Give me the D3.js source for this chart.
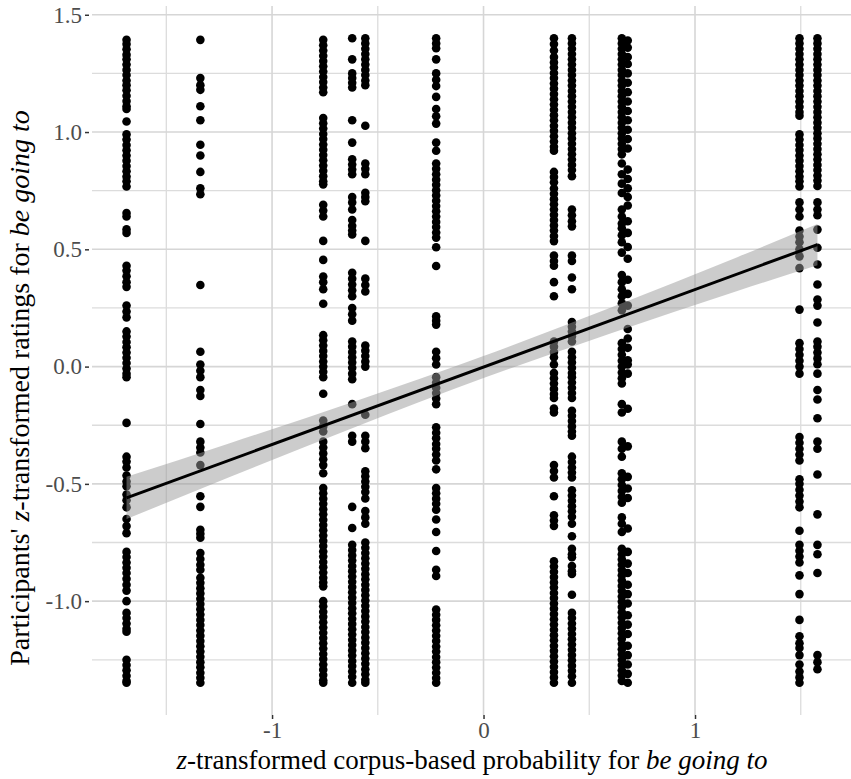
<!DOCTYPE html>
<html>
<head>
<meta charset="utf-8">
<script src="https://cdn.jsdelivr.net/npm/d3@7"></script>
<style>
	body { margin: 0; background: #fff; }
	text { font-family: "Liberation Serif", "DejaVu Serif", serif; }
</style>
</head>
<body>
<script>
// corpus-based probability (z) for each verb column
var probX = [-1.688, -1.339, -0.758, -0.621, -0.559, -0.224, 0.333, 0.418, 0.654, 0.682, 1.494, 1.579];

// participants' z-transformed ratings, one array per column
var ratingsA = [1.393, 1.375, 1.353, 1.33, 1.31, 1.288, 1.265, 1.243, 1.22, 1.2, 1.178, 1.155, 1.132, 1.11, 1.098, 1.045,
	0.99, 0.968, 0.945, 0.922, 0.9, 0.878, 0.855, 0.833, 0.81, 0.79, 0.768, 0.655, 0.64, 0.585, 0.57,
	0.43, 0.41, 0.385, 0.36, 0.34, 0.26, 0.235, 0.21, 0.15, 0.128, 0.105, 0.083, 0.06, 0.038, 0.015, -0.008, -0.03, -0.045,
	-0.24, -0.384, -0.405, -0.43, -0.464, -0.49, -0.51, -0.545, -0.57, -0.6, -0.65, -0.68, -0.71,
	-0.79, -0.812, -0.835, -0.858, -0.88, -0.905, -0.93, -0.955, -1.0, -1.05, -1.072, -1.095, -1.118, -1.13,
	-1.25, -1.272, -1.295, -1.318, -1.34, -1.348];
var ratingsB = [1.393, 1.23, 1.2, 1.18, 1.11, 1.05, 0.946, 0.9, 0.83, 0.76, 0.735, 0.348, 0.063, 0.009, -0.018, -0.045,
	-0.1, -0.125, -0.245, -0.32, -0.345, -0.366, -0.42, -0.553, -0.598, -0.696, -0.713, -0.73, -0.795, -0.82, -0.845, -0.866,
	-0.9, -0.922, -0.945, -0.967, -0.99, -1.012, -1.035, -1.057, -1.08, -1.102, -1.125, -1.147, -1.17, -1.192, -1.215,
	-1.237, -1.26, -1.282, -1.305, -1.327, -1.348];
var ratingsC = [1.393, 1.37, 1.348, 1.325, 1.303, 1.28, 1.258, 1.235, 1.213, 1.19, 1.17,
	1.06, 1.037, 1.015, 0.992, 0.97, 0.947, 0.925, 0.902, 0.88, 0.857, 0.835, 0.812, 0.79, 0.777,
	0.69, 0.665, 0.64, 0.536, 0.455, 0.384, 0.36, 0.33, 0.268,
	0.134, 0.112, 0.09, 0.067, 0.045, 0.022, 0, -0.022, -0.045, -0.116, -0.23, -0.255, -0.277,
	-0.32, -0.345, -0.37, -0.395, -0.42, -0.455, -0.518, -0.54, -0.563, -0.585, -0.608, -0.63, -0.653, -0.675, -0.698,
	-0.72, -0.743, -0.765, -0.788, -0.81, -0.833, -0.855, -0.878, -0.9, -0.92, -0.937,
	-1.0, -1.022, -1.045, -1.067, -1.09, -1.112, -1.135, -1.157, -1.18, -1.202, -1.225, -1.247, -1.27, -1.292, -1.315, -1.337, -1.348];
var ratingsD = [1.4, 1.31, 1.25, 1.23, 1.21, 1.19, 1.05, 0.955, 0.884, 0.862, 0.84, 0.82, 0.723, 0.7, 0.67, 0.625, 0.6, 0.58, 0.563,
	0.4, 0.375, 0.35, 0.325, 0.3, 0.25, 0.223, 0.196, 0.107, 0.085, 0.062, 0.04, 0.018, -0.005, -0.03, -0.054,
	-0.16, -0.295, -0.32, -0.598, -0.688,
	-0.76, -0.782, -0.805, -0.827, -0.85, -0.872, -0.895, -0.917, -0.94, -0.962, -0.985, -1.007, -1.03, -1.052, -1.075,
	-1.097, -1.12, -1.142, -1.165, -1.187, -1.21, -1.232, -1.255, -1.277, -1.3, -1.322, -1.348];
var ratingsE = [1.4, 1.378, 1.355, 1.333, 1.31, 1.288, 1.265, 1.243, 1.22, 1.2, 1.027, 0.866, 0.843, 0.82, 0.741, 0.723, 0.705,
	0.536, 0.375, 0.348, 0.32, 0.09, 0.068, 0.045, 0.022, 0, -0.205, -0.295, -0.32, -0.348,
	-0.446, -0.468, -0.49, -0.512, -0.535, -0.562, -0.616, -0.643, -0.67,
	-0.75, -0.772, -0.795, -0.817, -0.84, -0.862, -0.885, -0.907, -0.93, -0.952, -0.975, -0.997, -1.02, -1.042, -1.065,
	-1.087, -1.11, -1.132, -1.155, -1.177, -1.2, -1.222, -1.245, -1.267, -1.29, -1.312, -1.335, -1.348];
var ratingsF = [1.4, 1.378, 1.357, 1.31, 1.25, 1.223, 1.196, 1.15, 1.098, 1.067, 1.036, 0.955, 0.92,
	0.866, 0.843, 0.82, 0.797, 0.775, 0.752, 0.73, 0.707, 0.685, 0.662, 0.64, 0.617, 0.595, 0.572, 0.55, 0.509,
	0.429, 0.214, 0.196, 0.179, 0.063, 0.036, 0.009, -0.045, -0.068, -0.09, -0.113, -0.136, -0.16,
	-0.259, -0.282, -0.305, -0.33, -0.35, -0.375, -0.4, -0.438, -0.518, -0.54, -0.563, -0.585, -0.61, -0.652, -0.705,
	-0.786, -0.866, -0.893, -1.036, -1.058, -1.08, -1.103, -1.125, -1.148, -1.17, -1.193, -1.215, -1.238, -1.26,
	-1.283, -1.305, -1.328, -1.348];
var ratingsG = [1.4, 1.375, 1.348, 1.32, 1.297, 1.275, 1.252, 1.23, 1.207, 1.185, 1.162, 1.14, 1.117, 1.095, 1.072, 1.05,
	1.027, 1.005, 0.982, 0.96, 0.937, 0.92, 0.83, 0.808, 0.786,
	0.759, 0.737, 0.714, 0.692, 0.67, 0.647, 0.625, 0.602, 0.58, 0.557, 0.535, 0.473, 0.45, 0.43, 0.36, 0.3,
	0.107, 0.085, 0.062, 0.04, 0.009, -0.027, -0.05, -0.072, -0.095, -0.117, -0.134, -0.179, -0.196,
	-0.42, -0.445, -0.473, -0.553, -0.634, -0.656, -0.679,
	-0.83, -0.852, -0.875, -0.897, -0.92, -0.942, -0.965, -0.987, -1.01, -1.032, -1.055, -1.077, -1.1, -1.122,
	-1.145, -1.167, -1.19, -1.212, -1.235, -1.257, -1.28, -1.302, -1.325, -1.348];
var ratingsH = [1.4, 1.378, 1.355, 1.333, 1.31, 1.288, 1.265, 1.243, 1.22, 1.198, 1.175, 1.153, 1.13, 1.108, 1.085,
	1.063, 1.04, 1.018, 0.995, 0.973, 0.95, 0.928, 0.905, 0.883, 0.86, 0.838, 0.812,
	0.67, 0.645, 0.62, 0.598, 0.473, 0.45, 0.38, 0.33, 0.19, 0.17, 0.15, 0.128, 0.107,
	0.063, 0.04, 0.018, -0.005, -0.027, -0.045, -0.068, -0.09, -0.113, -0.134,
	-0.188, -0.21, -0.232, -0.255, -0.277, -0.295, -0.384, -0.407, -0.43, -0.452, -0.473,
	-0.527, -0.55, -0.572, -0.595, -0.617, -0.64, -0.67, -0.723, -0.777, -0.8, -0.813, -0.85, -0.872, -0.884, -0.973,
	-1.05, -1.072, -1.095, -1.117, -1.14, -1.162, -1.185, -1.207, -1.23, -1.252, -1.275, -1.297, -1.32, -1.348];
var ratingsI = [1.4, 1.378, 1.355, 1.333, 1.31, 1.288, 1.265, 1.243, 1.22, 1.198, 1.175, 1.153, 1.13, 1.108, 1.085,
	1.063, 1.04, 1.018, 0.995, 0.973, 0.95, 0.928, 0.905, 0.866, 0.82, 0.78, 0.74,
	0.67, 0.64, 0.61, 0.59, 0.56, 0.53, 0.486, 0.39, 0.36, 0.33, 0.3, 0.27, 0.24,
	0.1, 0.075, 0.05, 0.025, 0, -0.025, -0.05, -0.072, -0.16, -0.196, -0.32, -0.35, -0.384,
	-0.455, -0.48, -0.505, -0.53, -0.555, -0.58, -0.643, -0.67, -0.705,
	-0.777, -0.8, -0.822, -0.845, -0.867, -0.89, -0.912, -0.935, -0.957, -0.98, -1.002, -1.025, -1.047, -1.07,
	-1.092, -1.115, -1.137, -1.16, -1.182, -1.205, -1.227, -1.25, -1.272, -1.295, -1.317, -1.34];
var ratingsJ = [1.39, 1.36, 1.32, 1.29, 1.25, 1.21, 1.17, 1.13, 1.09, 1.05, 1.01, 0.97, 0.93, 0.84, 0.8, 0.76, 0.723,
	0.687, 0.62, 0.57, 0.51, 0.46, 0.37, 0.31, 0.26, 0.16, 0.12, 0.08, 0.027, 0.009, -0.03, -0.18, -0.34,
	-0.47, -0.52, -0.56, -0.69, -0.79, -0.84, -0.88, -0.93, -0.97, -1.01, -1.06, -1.1, -1.14, -1.19, -1.23, -1.27, -1.31, -1.348];
var ratingsK = [1.4, 1.378, 1.355, 1.333, 1.31, 1.288, 1.265, 1.243, 1.22, 1.198, 1.175, 1.153, 1.13, 1.108, 1.085, 1.07,
	0.99, 0.968, 0.945, 0.923, 0.9, 0.878, 0.855, 0.833, 0.81, 0.79, 0.768, 0.7, 0.67, 0.64,
	0.58, 0.555, 0.53, 0.5, 0.47, 0.42, 0.243, 0.1, 0.075, 0.05, 0.025, 0, -0.03,
	-0.3, -0.325, -0.35, -0.375, -0.4, -0.48, -0.5, -0.525, -0.55, -0.575, -0.6, -0.7,
	-0.76, -0.785, -0.81, -0.835, -0.89, -0.97, -1.08, -1.15, -1.18, -1.2, -1.23, -1.27, -1.3, -1.325, -1.348];
var ratingsL = [1.4, 1.378, 1.355, 1.333, 1.31, 1.288, 1.265, 1.243, 1.22, 1.198, 1.175, 1.153, 1.13, 1.108, 1.085,
	1.063, 1.04, 1.018, 0.995, 0.973, 0.95, 0.928, 0.905, 0.883, 0.86, 0.838, 0.815, 0.793, 0.77, 0.7,
	0.67, 0.645, 0.584, 0.507, 0.435, 0.35, 0.286, 0.26, 0.188, 0.107, 0.085, 0.06, 0.035, 0.01,
	-0.03, -0.1, -0.14, -0.22, -0.32, -0.35, -0.46, -0.63, -0.76, -0.8, -0.88, -1.23, -1.26, -1.29];

// linear fit and its confidence band
var fitX = [-1.688, 1.579];
var fitY = [-0.56, 0.52];
var bandX = [-1.688, -1.2, -0.6, 0, 0.6, 1.2, 1.579];
var bandHalf = [0.09, 0.072, 0.055, 0.047, 0.055, 0.072, 0.088];

var xTicks = [-1, 0, 1];
var xMinor = [-1.5, -0.5, 0.5, 1.5];
var yTicks = [-1.0, -0.5, 0.0, 0.5, 1.0, 1.5];
var yMinor = [-1.25, -0.75, -0.25, 0.25, 0.75, 1.25];

var ratingCols = [ratingsA, ratingsB, ratingsC, ratingsD, ratingsE, ratingsF,
	ratingsG, ratingsH, ratingsI, ratingsJ, ratingsK, ratingsL];

var points = [];
ratingCols.forEach(function (col, i) {
	col.forEach(function (v) { points.push({ x: probX[i], y: v }); });
});

var W = 851, H = 779;
var margin = { top: 6, right: -1, bottom: 64, left: 92 };

var svg = d3.select("body").append("svg")
	.attr("width", W)
	.attr("height", H);

// ggplot-like 5% expansion of the data range
function expand(ext) {
	var d = (ext[1] - ext[0]) * 0.05;
	return [ext[0] - d, ext[1] + d];
}

var x = d3.scaleLinear()
	.domain(expand(d3.extent(points, function (d) { return d.x; })))
	.range([margin.left, W - margin.right]);
var y = d3.scaleLinear()
	.domain(expand(d3.extent(points, function (d) { return d.y; })))
	.range([H - margin.bottom, margin.top]);

var grid = svg.append("g");
grid.selectAll(".xminor").data(xMinor).enter().append("line")
	.attr("x1", function (d) { return x(d); }).attr("x2", function (d) { return x(d); })
	.attr("y1", y.range()[1]).attr("y2", y.range()[0])
	.attr("stroke", "#dcdcdc").attr("stroke-width", 1.3);
grid.selectAll(".yminor").data(yMinor).enter().append("line")
	.attr("y1", function (d) { return y(d); }).attr("y2", function (d) { return y(d); })
	.attr("x1", x.range()[0]).attr("x2", x.range()[1])
	.attr("stroke", "#dcdcdc").attr("stroke-width", 1.3);
grid.selectAll(".xmajor").data(xTicks).enter().append("line")
	.attr("x1", function (d) { return x(d); }).attr("x2", function (d) { return x(d); })
	.attr("y1", y.range()[1]).attr("y2", y.range()[0])
	.attr("stroke", "#d6d6d6").attr("stroke-width", 1.6);
grid.selectAll(".ymajor").data(yTicks).enter().append("line")
	.attr("y1", function (d) { return y(d); }).attr("y2", function (d) { return y(d); })
	.attr("x1", x.range()[0]).attr("x2", x.range()[1])
	.attr("stroke", "#d6d6d6").attr("stroke-width", 1.6);

// axes
var xAxis = svg.append("g")
	.attr("transform", "translate(0," + (H - margin.bottom) + ")")
	.call(d3.axisBottom(x).tickValues(xTicks).tickSize(4).tickPadding(3)
		.tickFormat(function (d) { return d < 0 ? "-" + Math.abs(d) : d; }));
var yAxis = svg.append("g")
	.attr("transform", "translate(" + (margin.left - 3) + ",0)")
	.call(d3.axisLeft(y).tickValues(yTicks).tickSize(4).tickPadding(3)
		.tickFormat(function (d) { return (d < 0 ? "-" : "") + Math.abs(d).toFixed(1); }));

[xAxis, yAxis].forEach(function (a) {
	a.select(".domain").remove();
	a.selectAll(".tick line").attr("stroke", "#333").attr("stroke-width", 1.5);
	a.selectAll(".tick text")
		.attr("fill", "#4d4d4d")
		.style("font-size", "23px")
		.style("font-family", "'Liberation Serif', serif");
});

// points
svg.append("g").selectAll("circle")
	.data(points).enter().append("circle")
	.attr("cx", function (d) { return x(d.x); })
	.attr("cy", function (d) { return y(d.y); })
	.attr("r", 4.3)
	.attr("fill", "#000");

// fit + band
var fit = d3.scaleLinear().domain(fitX).range(fitY);
var band = bandX.map(function (v, i) { return { x: v, lo: fit(v) - bandHalf[i], hi: fit(v) + bandHalf[i] }; });

svg.append("path")
	.datum(band)
	.attr("fill", "#999")
	.attr("fill-opacity", 0.5)
	.attr("d", d3.area()
		.curve(d3.curveMonotoneX)
		.x(function (d) { return x(d.x); })
		.y0(function (d) { return y(d.lo); })
		.y1(function (d) { return y(d.hi); }));

svg.append("line")
	.attr("x1", x(fitX[0])).attr("y1", y(fitY[0]))
	.attr("x2", x(fitX[1])).attr("y2", y(fitY[1]))
	.attr("stroke", "#000")
	.attr("stroke-width", 3);

// titles
var xt = svg.append("text")
	.attr("x", (x.range()[0] + x.range()[1]) / 2)
	.attr("y", 769)
	.attr("text-anchor", "middle")
	.style("font-size", "27px")
	.attr("fill", "#000");
xt.append("tspan").style("font-style", "italic").text("z");
xt.append("tspan").text("-transformed corpus-based probability for ");
xt.append("tspan").style("font-style", "italic").text("be going to");

var yt = svg.append("text")
	.attr("transform", "translate(29,388) rotate(-90)")
	.attr("text-anchor", "middle")
	.style("font-size", "28px")
	.attr("fill", "#000");
yt.append("tspan").text("Participants' ");
yt.append("tspan").style("font-style", "italic").text("z");
yt.append("tspan").text("-transformed ratings for ");
yt.append("tspan").style("font-style", "italic").text("be going to");
</script>
</body>
</html>
